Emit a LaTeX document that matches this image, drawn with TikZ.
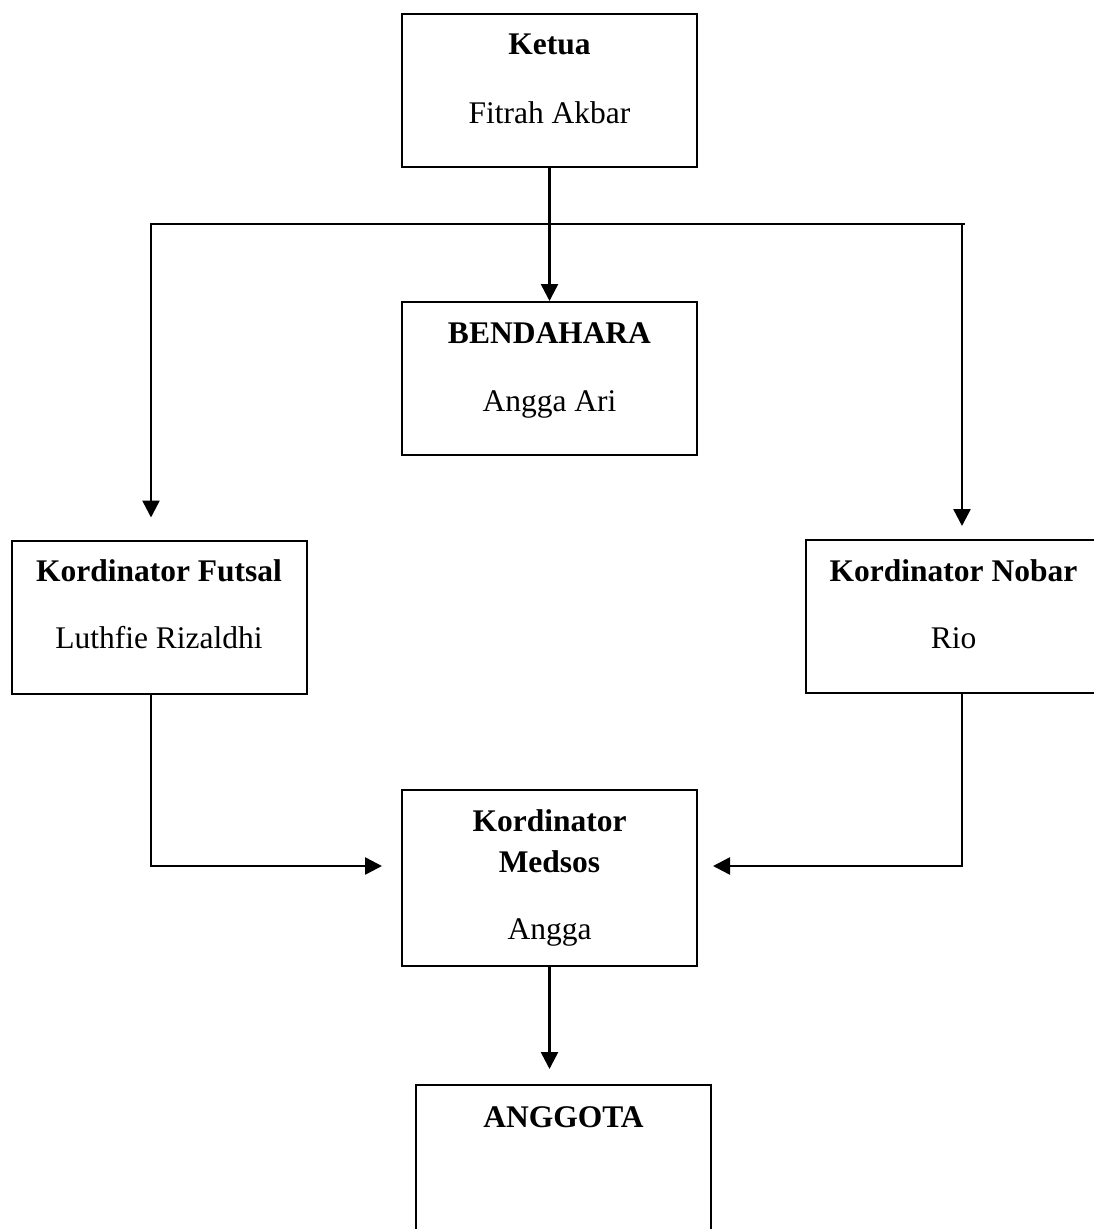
\documentclass[tikz,border=0pt]{standalone}
\usepackage{fontspec}
\setmainfont{Liberation Serif}
\usetikzlibrary{arrows.meta,positioning}

\begin{document}
\begin{tikzpicture}[x=1pt, y=-1pt,
    font=\fontsize{31.5}{38}\selectfont,
    >={Triangle[length=17pt,width=17pt]},
    node distance=133pt and 96pt,
    box/.style={draw, rectangle, line width=2pt, minimum width=295pt, minimum height=153pt, inner sep=0pt},
    roletxt/.style={anchor=base, inner sep=0pt, font=\fontsize{31.5}{38}\selectfont\bfseries},
    persontxt/.style={anchor=base, inner sep=0pt},
    norm/.style={->, draw, black, line width=2.5pt},
    bus/.style={draw, black, line width=2pt}]

\clip (0,0) rectangle (1094,1229);

% boxes
\node [box] (ketua) at (549.5,90.5) {};
\node [box] (bendahara) [below=of ketua] {};
\node [box] (futsal) at (159,617) {};
\node [box] (nobar) at (953.5,616.5) {};
\node [box, minimum height=176pt] (medsos) at (549.5,878) {};
\node [box, minimum height=200pt, anchor=north] (anggota) at (563.5,1084) {};

% texts
\node [roletxt] (ketua-r) at ([yshift=-41pt]ketua.north) {Ketua};
\node [persontxt] (ketua-p) at ([yshift=-110pt]ketua.north) {Fitrah Akbar};
\node [roletxt] (bendahara-r) at ([yshift=-42pt]bendahara.north) {BENDAHARA};
\node [persontxt] (bendahara-p) at ([yshift=-110pt]bendahara.north) {Angga Ari};
\node [roletxt] (futsal-r) at ([yshift=-42pt]futsal.north) {Kordinator Futsal};
\node [persontxt] (futsal-p) at ([yshift=-109pt]futsal.north) {Luthfie Rizaldhi};
\node [roletxt] (nobar-r) at ([yshift=-42pt]nobar.north) {Kordinator Nobar};
\node [persontxt] (nobar-p) at ([yshift=-109pt]nobar.north) {Rio};
\node [roletxt] (medsos-r1) at ([yshift=-42pt]medsos.north) {Kordinator};
\node [roletxt] (medsos-r2) at ([yshift=-83pt]medsos.north) {Medsos};
\node [persontxt] (medsos-p) at ([yshift=-150pt]medsos.north) {Angga};
\node [roletxt] (anggota-r) at ([yshift=-43pt]anggota.north) {ANGGOTA};

% connectors
\coordinate (busL) at (151,224);
\coordinate (busR) at (962,224);
\draw [bus] ([xshift=-1pt]busL) -- ([xshift=3pt]busR);
\draw [norm] (ketua) -- (bendahara);
\draw [norm, shorten >=22pt] (busL) -- (busL |- futsal.north);
\draw [norm, shorten >=13pt] (busR) -- (busR |- nobar.north);
\draw [norm, shorten >=19pt] (futsal.south -| busL) |- ([yshift=12pt]medsos.west);
\draw [norm, shorten >=15pt] (nobar.south -| busR) |- ([yshift=12pt]medsos.east);
\draw [norm, shorten >=15pt] (medsos.south) -- (medsos.south |- anggota.north);

\end{tikzpicture}
\end{document}
